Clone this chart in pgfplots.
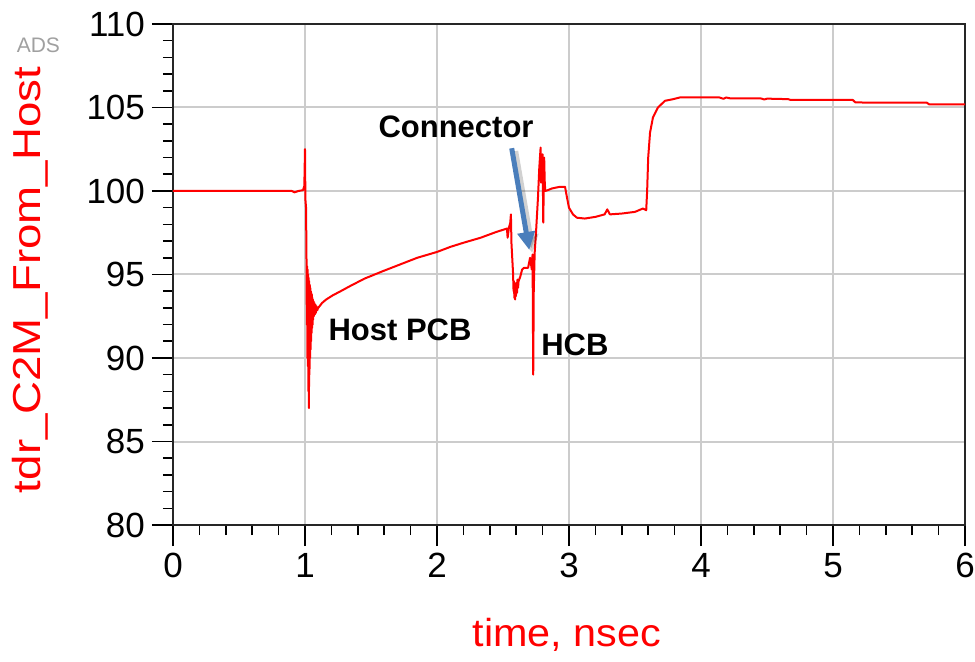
\documentclass[border=0pt]{standalone}
\usepackage{fontspec}
\setmainfont{Liberation Sans}
\usepackage{pgfplots}
\pgfplotsset{compat=1.18}
\usetikzlibrary{arrows.meta}

\definecolor{tdrred}{RGB}{255,0,0}
\definecolor{arrowblue}{RGB}{74,126,187}
\definecolor{gridgray}{RGB}{204,204,204}
\definecolor{adsgray}{RGB}{160,160,160}

\pgfplotstableread{
t      z
0.000  100.00
0.500  100.00
0.900  100.00
0.920  99.92
0.950  100.00
0.985  100.05
0.995  100.30
1.000  102.50
1.003  99.50
1.008  99.00
1.012  95.40
1.014  92.00
1.016  95.50
1.018  90.00
1.020  95.30
1.022  89.50
1.024  95.00
1.026  88.00
1.028  94.80
1.030  87.00
1.032  94.60
1.034  89.00
1.036  94.40
1.038  90.00
1.040  94.20
1.042  90.50
1.044  94.00
1.046  91.00
1.048  93.90
1.050  91.50
1.052  93.80
1.054  91.80
1.056  93.60
1.058  92.00
1.060  93.50
1.062  92.30
1.065  93.40
1.068  92.50
1.071  93.30
1.074  92.60
1.078  93.20
1.082  92.70
1.087  93.10
1.092  92.85
1.100  93.00
1.110  93.10
1.130  93.30
1.160  93.50
1.210  93.75
1.270  94.00
1.340  94.30
1.450  94.75
1.590  95.20
1.720  95.60
1.850  96.00
2.000  96.35
2.100  96.65
2.200  96.90
2.330  97.20
2.450  97.55
2.530  97.75
2.535  97.20
2.545  97.80
2.555  98.10
2.560  98.60
2.564  96.90
2.576  95.10
2.580  94.00
2.583  94.60
2.586  93.60
2.589  94.50
2.592  93.50
2.595  94.40
2.598  93.70
2.602  94.50
2.606  93.90
2.610  94.70
2.614  94.20
2.618  94.60
2.630  94.85
2.645  95.30
2.660  95.40
2.690  95.40
2.705  96.00
2.718  95.30
2.724  96.20
2.729  89.00
2.733  94.00
2.740  96.30
2.750  97.50
2.765  99.60
2.775  101.40
2.785  102.60
2.788  100.50
2.791  102.20
2.795  100.80
2.800  102.20
2.805  98.10
2.812  102.00
2.816  100.60
2.820  100.00
2.840  100.05
2.870  100.15
2.900  100.20
2.930  100.25
2.970  100.25
2.985  99.60
3.000  99.00
3.030  98.60
3.060  98.40
3.120  98.35
3.200  98.45
3.270  98.60
3.290  98.90
3.310  98.60
3.400  98.65
3.500  98.75
3.560  98.95
3.585  98.85
3.592  100.00
3.600  102.00
3.614  103.50
3.636  104.40
3.674  105.00
3.727  105.40
3.790  105.50
3.840  105.60
4.000  105.60
4.140  105.60
4.170  105.52
4.190  105.60
4.220  105.55
4.450  105.55
4.480  105.48
4.500  105.53
4.660  105.50
4.680  105.45
5.150  105.45
5.170  105.30
5.710  105.29
5.730  105.18
6.000  105.18
}\tdrdata

\begin{document}
\begin{tikzpicture}
\begin{axis}[
    scale only axis,
    width=396pt, height=250.5pt,
    xmin=0, xmax=6, ymin=80, ymax=110,
    xtick={0,1,...,6}, ytick={80,85,...,110},
    minor x tick num=4, minor y tick num=4,
    tick pos=left, tick align=outside,
    major tick length=10.5pt, minor tick length=5pt,
    every tick/.style={black, line width=0.8pt},
    axis line style={black!85, line width=1pt},
    grid=major,
    major grid style={gridgray, line width=1pt},
    /pgf/number format/assume math mode=true,
    tick label style={font=\fontsize{17.5}{20}\selectfont, black},
    label style={font=\fontsize{19.5}{22}\selectfont, tdrred},
    xlabel={\scalebox{1.06}[1]{time, nsec}},
    ylabel={\scalebox{1.17}[1]{tdr\_C2M\_From\_Host}},
    xlabel style={at={(axis description cs:0.4975,-0.2196)}, anchor=center},
    ylabel style={at={(axis description cs:-0.1806,0.489)}, anchor=center},
    clip mode=individual,
]
\addplot[tdrred, line width=1pt, line join=round] table[x=t, y=z] {\tdrdata};

\node[font=\fontsize{15.5}{18}\selectfont\bfseries] at (axis cs:2.144,103.83) {Connector};
\node[font=\fontsize{15.5}{18}\selectfont\bfseries] at (axis cs:1.72,91.68) {Host PCB};
\node[font=\fontsize{15.5}{18}\selectfont\bfseries] at (axis cs:3.045,90.78) {HCB};
\draw[black, opacity=0.18, line width=3.5pt, -{Triangle[width=9pt,length=9pt]}, xshift=1.5pt, yshift=-1.5pt]
    (axis cs:2.566,102.56) -- (axis cs:2.699,96.47);
\draw[arrowblue, line width=2.5pt, -{Triangle[width=8.5pt,length=9pt]}]
    (axis cs:2.566,102.56) -- (axis cs:2.699,96.47);

\node[text=adsgray, font=\fontsize{10.5}{12}\selectfont] at (rel axis cs:-0.170,0.958) {ADS};

\coordinate (bbl) at (rel axis cs:-0.21843,-0.27146);
\coordinate (btr) at (rel axis cs:1.01263,1.04790);
\end{axis}
\pgfresetboundingbox
\path[use as bounding box] (bbl) rectangle (btr);
\end{tikzpicture}
\end{document}
